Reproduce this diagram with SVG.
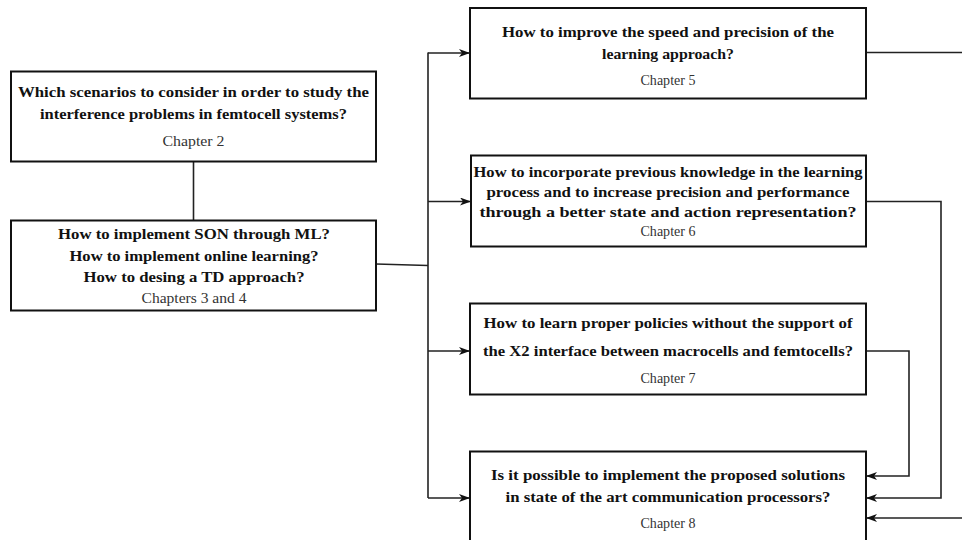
<svg xmlns="http://www.w3.org/2000/svg" width="962" height="540" viewBox="0 0 962 540">
  <style>
    .box { fill: #ffffff; stroke: #111111; stroke-width: 2; }
    .q { font-family: "Liberation Serif", "Times New Roman", serif; font-weight: bold; font-size: 14.5px; fill: #111111; text-anchor: middle; }
    .ch { font-family: "Liberation Serif", "Times New Roman", serif; font-size: 14px; fill: #333333; text-anchor: middle; }
    .wire { fill: none; stroke: #222222; stroke-width: 1.6; }
  </style>
  <defs>
    <marker id="stealth" markerUnits="userSpaceOnUse" markerWidth="12" markerHeight="9" refX="11" refY="4" orient="auto">
      <path d="M0,0 L11,4 L0,8 L3,4 Z" fill="#111111"/>
    </marker>
  </defs>
  <rect width="962" height="540" fill="#ffffff"/>

  <g id="connectors">
    <line class="wire" x1="193.5" y1="161.5" x2="193.5" y2="220.5"/>
    <line class="wire" x1="376" y1="264" x2="428" y2="265.5"/>
    <line class="wire" x1="428" y1="52.5" x2="428" y2="498"/>
    <line class="wire" x1="428" y1="53" x2="470" y2="53" marker-end="url(#stealth)"/>
    <line class="wire" x1="428" y1="201.5" x2="471" y2="201.5" marker-end="url(#stealth)"/>
    <line class="wire" x1="428" y1="351" x2="470" y2="351" marker-end="url(#stealth)"/>
    <line class="wire" x1="428" y1="498" x2="470" y2="498" marker-end="url(#stealth)"/>
    <line class="wire" x1="866" y1="52.5" x2="962" y2="52.5"/>
    <polyline class="wire" points="866,201.5 941,201.5 941,498 866,498" marker-end="url(#stealth)"/>
    <polyline class="wire" points="866,351 909,351 909,476 866,476" marker-end="url(#stealth)"/>
    <line class="wire" x1="962" y1="518" x2="866" y2="518" marker-end="url(#stealth)"/>
  </g>

  <g id="scenarios">
    <rect class="box" x="11" y="71.5" width="365" height="90"/>
    <text class="q" x="193.5" y="97" textLength="351" lengthAdjust="spacingAndGlyphs">Which scenarios to consider in order to study the</text>
    <text class="q" x="193.5" y="118.5" textLength="307" lengthAdjust="spacingAndGlyphs">interference problems in femtocell systems?</text>
    <text class="ch" x="193.5" y="146" textLength="62" lengthAdjust="spacingAndGlyphs">Chapter 2</text>
  </g>

  <g id="son-ml">
    <rect class="box" x="11" y="220.5" width="365" height="90"/>
    <text class="q" x="194" y="239" textLength="272" lengthAdjust="spacingAndGlyphs">How to implement SON through ML?</text>
    <text class="q" x="194" y="260.5" textLength="249" lengthAdjust="spacingAndGlyphs">How to implement online learning?</text>
    <text class="q" x="194" y="281.5" textLength="221" lengthAdjust="spacingAndGlyphs">How to desing a TD approach?</text>
    <text class="ch" x="194" y="302.5" textLength="105" lengthAdjust="spacingAndGlyphs">Chapters 3 and 4</text>
  </g>

  <g id="speed-precision">
    <rect class="box" x="470" y="8" width="396" height="90.5"/>
    <text class="q" x="668" y="37" textLength="332" lengthAdjust="spacingAndGlyphs">How to improve the speed and precision of the</text>
    <text class="q" x="668" y="59" textLength="132" lengthAdjust="spacingAndGlyphs">learning approach?</text>
    <text class="ch" x="668" y="85" textLength="55" lengthAdjust="spacingAndGlyphs">Chapter 5</text>
  </g>

  <g id="prior-knowledge">
    <rect class="box" x="471" y="155.5" width="395" height="91"/>
    <text class="q" x="668" y="177" textLength="389" lengthAdjust="spacingAndGlyphs">How to incorporate previous knowledge in the learning</text>
    <text class="q" x="668" y="197" textLength="363" lengthAdjust="spacingAndGlyphs">process and to increase precision and performance</text>
    <text class="q" x="668" y="216.5" textLength="377" lengthAdjust="spacingAndGlyphs">through a better state and action representation?</text>
    <text class="ch" x="668" y="236" textLength="55" lengthAdjust="spacingAndGlyphs">Chapter 6</text>
  </g>

  <g id="no-x2">
    <rect class="box" x="470" y="303.5" width="396" height="91"/>
    <text class="q" x="668" y="328" textLength="369" lengthAdjust="spacingAndGlyphs">How to learn proper policies without the support of</text>
    <text class="q" x="668" y="356" textLength="370" lengthAdjust="spacingAndGlyphs">the X2 interface between macrocells and femtocells?</text>
    <text class="ch" x="668" y="383" textLength="55" lengthAdjust="spacingAndGlyphs">Chapter 7</text>
  </g>

  <g id="processors">
    <rect class="box" x="470" y="451.5" width="396" height="110"/>
    <text class="q" x="668" y="480" textLength="354" lengthAdjust="spacingAndGlyphs">Is it possible to implement the proposed solutions</text>
    <text class="q" x="668" y="502" textLength="325" lengthAdjust="spacingAndGlyphs">in state of the art communication processors?</text>
    <text class="ch" x="668" y="528" textLength="55" lengthAdjust="spacingAndGlyphs">Chapter 8</text>
  </g>
</svg>
